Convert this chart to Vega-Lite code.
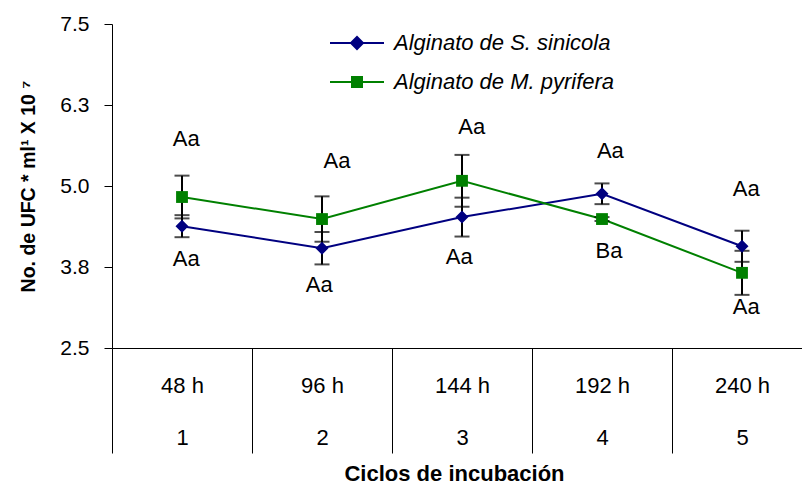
{
  "$schema": "https://vega.github.io/schema/vega-lite/v6.json",
  "width": 700,
  "height": 324,
  "autosize": {"type": "none"},
  "padding": {"left": 112, "top": 24, "right": 0, "bottom": 140},
  "background": "white",
  "config": {
    "view": {"stroke": null},
    "font": "Liberation Sans",
    "axis": {"grid": false, "domainColor": "#000000", "tickColor": "#000000", "labelColor": "#000000", "titleColor": "#000000", "domainWidth": 1, "tickWidth": 1}
  },
  "datasets": {
    "medias": [
      {"ciclo": 1, "serie": "Alginato de S. sinicola", "valor": 4.38, "de": 0.17},
      {"ciclo": 2, "serie": "Alginato de S. sinicola", "valor": 4.04, "de": 0.25},
      {"ciclo": 3, "serie": "Alginato de S. sinicola", "valor": 4.52, "de": 0.30},
      {"ciclo": 4, "serie": "Alginato de S. sinicola", "valor": 4.88, "de": 0.16},
      {"ciclo": 5, "serie": "Alginato de S. sinicola", "valor": 4.07, "de": 0.24},
      {"ciclo": 1, "serie": "Alginato de M. pyrifera", "valor": 4.83, "de": 0.33},
      {"ciclo": 2, "serie": "Alginato de M. pyrifera", "valor": 4.49, "de": 0.35},
      {"ciclo": 3, "serie": "Alginato de M. pyrifera", "valor": 5.08, "de": 0.40},
      {"ciclo": 4, "serie": "Alginato de M. pyrifera", "valor": 4.49, "de": 0.03},
      {"ciclo": 5, "serie": "Alginato de M. pyrifera", "valor": 3.66, "de": 0.34}
    ],
    "letras": [
      {"lx": 1.03, "ly": 5.725, "t": "Aa"},
      {"lx": 1.03, "ly": 3.873, "t": "Aa"},
      {"lx": 2.107, "ly": 5.386, "t": "Aa"},
      {"lx": 1.98, "ly": 3.472, "t": "Aa"},
      {"lx": 3.07, "ly": 5.91, "t": "Aa"},
      {"lx": 2.98, "ly": 3.904, "t": "Aa"},
      {"lx": 4.06, "ly": 5.54, "t": "Aa"},
      {"lx": 4.05, "ly": 3.997, "t": "Ba"},
      {"lx": 5.03, "ly": 4.954, "t": "Aa"},
      {"lx": 5.03, "ly": 3.133, "t": "Aa"}
    ]
  },
  "layer": [
    {
      "data": {"name": "medias"},
      "transform": [{"filter": "datum.serie == 'Alginato de S. sinicola'"}],
      "mark": {"type": "line", "strokeWidth": 2, "color": "#000080"},
      "encoding": {
        "x": {
          "field": "ciclo", "type": "quantitative", "title": "Ciclos de incubación",
          "scale": {"domain": [0.5, 5.5], "nice": false, "zero": false},
          "axis": {
            "values": [0.5, 1.5, 2.5, 3.5, 4.5, 5.5],
            "tickSize": 105,
            "labelExpr": "datum.value < 5 ? [format((datum.value + 0.5) * 48, 'd') + ' h', format(datum.value + 0.5, 'd')] : ''",
            "labelOffset": 70,
            "labelLineHeight": 52,
            "labelPadding": -77.5,
            "labelFontSize": 22,
            "labelAlign": "center",
            "labelBaseline": "top",
            "labelFlush": false,
            "labelOverlap": false,
            "labelBound": false,
            "titleFontSize": 22,
            "titleFontWeight": "bold",
            "titlePadding": 10,
            "titleX": 342
          }
        },
        "y": {
          "field": "valor", "type": "quantitative", "title": "No. de UFC * ml¹ X 10 ⁷",
          "scale": {"domain": [2.5, 7.5], "nice": false, "zero": false},
          "axis": {
            "values": [2.5, 3.75, 5, 6.25, 7.5],
            "format": ".1f",
            "tickSize": 8,
            "labelPadding": 15,
            "labelFontSize": 21,
            "titleFontSize": 19.5,
            "titleFontWeight": "bold",
            "titlePadding": 21
          }
        }
      }
    },
    {
      "data": {"name": "medias"},
      "transform": [{"filter": "datum.serie == 'Alginato de M. pyrifera'"}],
      "mark": {"type": "line", "strokeWidth": 2, "color": "#008000"},
      "encoding": {
        "x": {"field": "ciclo", "type": "quantitative", "title": "Ciclos de incubación"},
        "y": {"field": "valor", "type": "quantitative", "title": "No. de UFC * ml¹ X 10 ⁷"}
      }
    },
    {
      "data": {"name": "medias"},
      "mark": {"type": "errorbar", "color": "#000000", "ticks": {"size": 15, "thickness": 2, "color": "#000000"}, "rule": {"strokeWidth": 2, "color": "#000000"}},
      "encoding": {
        "x": {"field": "ciclo", "type": "quantitative", "title": "Ciclos de incubación"},
        "y": {"field": "valor", "type": "quantitative", "title": "No. de UFC * ml¹ X 10 ⁷"},
        "yError": {"field": "de"},
        "detail": {"field": "serie", "type": "nominal"}
      }
    },
    {
      "data": {"name": "medias"},
      "transform": [{"filter": "datum.serie == 'Alginato de S. sinicola'"}],
      "mark": {"type": "point", "shape": "diamond", "filled": true, "size": 170, "color": "#000080", "opacity": 1},
      "encoding": {
        "x": {"field": "ciclo", "type": "quantitative", "title": "Ciclos de incubación"},
        "y": {"field": "valor", "type": "quantitative", "title": "No. de UFC * ml¹ X 10 ⁷"}
      }
    },
    {
      "data": {"name": "medias"},
      "transform": [{"filter": "datum.serie == 'Alginato de M. pyrifera'"}],
      "mark": {"type": "point", "shape": "square", "filled": true, "size": 140, "color": "#008000", "opacity": 1},
      "encoding": {
        "x": {"field": "ciclo", "type": "quantitative", "title": "Ciclos de incubación"},
        "y": {"field": "valor", "type": "quantitative", "title": "No. de UFC * ml¹ X 10 ⁷"}
      }
    },
    {
      "data": {"name": "letras"},
      "mark": {"type": "text", "fontSize": 22, "color": "#000000", "align": "center", "baseline": "middle"},
      "encoding": {
        "x": {"field": "lx", "type": "quantitative", "title": "Ciclos de incubación"},
        "y": {"field": "ly", "type": "quantitative", "title": "No. de UFC * ml¹ X 10 ⁷"},
        "text": {"field": "t"}
      }
    },
    {
      "data": {"name": "medias"},
      "mark": {"type": "point", "filled": true, "opacity": 0},
      "encoding": {
        "x": {"field": "ciclo", "type": "quantitative", "title": "Ciclos de incubación"},
        "y": {"field": "valor", "type": "quantitative", "title": "No. de UFC * ml¹ X 10 ⁷"},
        "fill": {
          "field": "serie", "type": "nominal",
          "scale": {"domain": ["Alginato de S. sinicola", "Alginato de M. pyrifera"], "range": ["#000080", "#008000"]},
          "legend": {"orient": "none", "legendX": 234, "legendY": 8, "title": null, "padding": 0, "symbolSize": 400, "symbolStrokeWidth": 2, "symbolOpacity": 1, "labelFontSize": 22, "labelFontStyle": "italic", "labelColor": "#000000", "labelOffset": 26, "rowPadding": 17, "labelLimit": 400}
        },
        "stroke": {
          "field": "serie", "type": "nominal",
          "scale": {"domain": ["Alginato de S. sinicola", "Alginato de M. pyrifera"], "range": ["#000080", "#008000"]},
          "legend": {"orient": "none", "legendX": 234, "legendY": 8, "title": null, "padding": 0, "symbolSize": 400, "symbolStrokeWidth": 2, "symbolOpacity": 1, "labelFontSize": 22, "labelFontStyle": "italic", "labelColor": "#000000", "labelOffset": 26, "rowPadding": 17, "labelLimit": 400}
        },
        "shape": {
          "field": "serie", "type": "nominal",
          "scale": {"domain": ["Alginato de S. sinicola", "Alginato de M. pyrifera"], "range": ["M-2.7,0H2.7M-0.6,0L0,-0.6L0.6,0L0,0.6Z", "M-2.7,0H2.7M-0.5,-0.5H0.5V0.5H-0.5Z"]},
          "legend": {"orient": "none", "legendX": 234, "legendY": 8, "title": null, "padding": 0, "symbolSize": 400, "symbolStrokeWidth": 2, "symbolOpacity": 1, "labelFontSize": 22, "labelFontStyle": "italic", "labelColor": "#000000", "labelOffset": 26, "rowPadding": 17, "labelLimit": 400}
        }
      }
    }
  ]
}
